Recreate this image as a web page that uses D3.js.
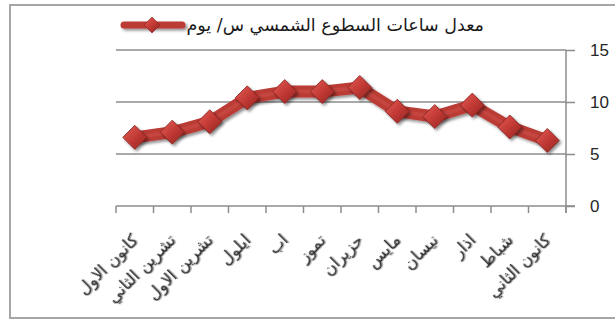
<!DOCTYPE html>
<html><head><meta charset="utf-8">
<script src="https://cdn.jsdelivr.net/npm/d3@7/dist/d3.min.js"></script>
<style>
html,body{margin:0;padding:0;background:#fff;}
svg{display:block;}
</style></head>
<body>
<svg id="chart" width="615" height="320"></svg>
<script>
const categories = ["كانون الاول","تشرين الثاني","تشرين الاول","ايلول","اب","تموز","حزيران","مايس","نيسان","اذار","شباط","كانون الثاني"];
const values = [6.6, 7.1, 8.1, 10.4, 11.0, 11.0, 11.4, 9.1, 8.6, 9.7, 7.6, 6.3];
const yTicks = [0, 5, 10, 15];
const seriesName = "معدل ساعات السطوع الشمسي س/ يوم";

const svg = d3.select("#chart");
const W = 615, H = 320;
const plot = {left: 116, right: 566, top: 50, bottom: 206};

// defs
const defs = svg.append("defs");
const grad = defs.append("linearGradient").attr("id","dg").attr("x1","0").attr("y1","0").attr("x2","1").attr("y2","1");
grad.append("stop").attr("offset","0%").attr("stop-color","#e25e58");
grad.append("stop").attr("offset","50%").attr("stop-color","#c33a35");
grad.append("stop").attr("offset","100%").attr("stop-color","#8f2320");
const sh = defs.append("filter").attr("id","sh").attr("filterUnits","userSpaceOnUse")
  .attr("x",-700).attr("y",-400).attr("width",1400).attr("height",800);
sh.append("feGaussianBlur").attr("in","SourceAlpha").attr("stdDeviation","1.5");
sh.append("feOffset").attr("dx","1.5").attr("dy","2").attr("result","ob");
sh.append("feComponentTransfer").append("feFuncA").attr("type","linear").attr("slope","0.45");
const mg = sh.append("feMerge"); mg.append("feMergeNode"); mg.append("feMergeNode").attr("in","SourceGraphic");
const tsh = defs.append("filter").attr("id","tsh").attr("x","-10%").attr("y","-10%").attr("width","130%").attr("height","130%");
tsh.append("feGaussianBlur").attr("in","SourceAlpha").attr("stdDeviation","0.6");
tsh.append("feOffset").attr("dx","1").attr("dy","1");
tsh.append("feComponentTransfer").append("feFuncA").attr("type","linear").attr("slope","0.35");
const mg2 = tsh.append("feMerge"); mg2.append("feMergeNode"); mg2.append("feMergeNode").attr("in","SourceGraphic");

// frame
svg.append("rect").attr("x",10).attr("y",5).attr("width",W+20).attr("height",313)
  .attr("fill","#fff").attr("stroke","#a6a6a6").attr("stroke-width",2);

const x = d3.scaleBand().domain(categories).range([plot.left, plot.right]).padding(0);
const y = d3.scaleLinear().domain([0,15]).range([plot.bottom, plot.top]);

// gridlines
svg.append("g").selectAll("line").data(yTicks.filter(t=>t>0)).join("line")
  .attr("x1",plot.left).attr("x2",plot.right)
  .attr("y1",d=>y(d)).attr("y2",d=>y(d))
  .attr("stroke","#8c8c8c").attr("stroke-width",1.5);

// y axis (right)
const yAxis = d3.axisRight(y).tickValues(yTicks).tickSize(9).tickPadding(15).tickFormat(d3.format("d"));
const gy = svg.append("g").attr("transform",`translate(${plot.right},0)`).call(yAxis);
gy.select(".domain").attr("d",`M0,${plot.top}V${plot.bottom+7}`).attr("stroke","#8c8c8c").attr("stroke-width",1.5);
gy.selectAll(".tick line").attr("stroke","#8c8c8c").attr("stroke-width",1.5);
gy.selectAll(".tick text").attr("font-family","Liberation Sans, Arial, sans-serif").attr("font-size",17).attr("fill","#262626");

// x axis
const boundaries = categories.map(c=>x(c)).concat([plot.right]);
const gx = svg.append("g");
gx.append("line").attr("x1",plot.left).attr("x2",plot.right+9).attr("y1",plot.bottom).attr("y2",plot.bottom)
  .attr("stroke","#8c8c8c").attr("stroke-width",1.5);
gx.selectAll("line.tk").data(boundaries).join("line").attr("class","tk")
  .attr("x1",d=>d).attr("x2",d=>d).attr("y1",plot.bottom).attr("y2",plot.bottom+7)
  .attr("stroke","#8c8c8c").attr("stroke-width",1.5);
gx.selectAll("text").data(categories).join("text")
  .attr("transform",d=>`translate(${x(d)+x.bandwidth()/2},${plot.bottom+31}) rotate(-45)`)
  .attr("text-anchor","end").attr("dy","0.35em")
  .attr("font-family","DejaVu Sans, sans-serif").attr("font-size",16.5)
  .attr("fill","#2a2a2a").attr("filter","url(#tsh)")
  .text(d=>d);

// line
const pts = categories.map((c,i)=>[x(c)+x.bandwidth()/2, y(values[i])]);
svg.append("path").attr("d",d3.line()(pts)).attr("fill","none")
  .attr("stroke","#bb3a36").attr("stroke-width",12).attr("stroke-linejoin","round")
  .attr("filter","url(#sh)");
svg.append("path").attr("d",d3.line()(pts)).attr("fill","none")
  .attr("stroke","#cf4f4a").attr("stroke-width",4).attr("stroke-linejoin","round").attr("opacity",0.5);

const diamond = (s)=>`M0,${-s}L${s},0L0,${s}L${-s},0Z`;
svg.append("g").selectAll("path").data(pts).join("path")
  .attr("transform",d=>`translate(${d[0]},${d[1]})`)
  .attr("d",diamond(12)).attr("fill","url(#dg)").attr("stroke","#86211e").attr("stroke-width",0.8)
  .attr("filter","url(#sh)");

// legend
const lg = svg.append("g");
lg.append("line").attr("x1",124).attr("x2",182).attr("y1",25).attr("y2",25)
  .attr("stroke","#bb3a36").attr("stroke-width",7).attr("stroke-linecap","round").attr("filter","url(#sh)");
lg.append("path").attr("transform","translate(152,25)").attr("d",diamond(8))
  .attr("fill","url(#dg)").attr("stroke","#86211e").attr("stroke-width",0.6);
lg.append("text").attr("x",484).attr("y",25).attr("dy","0.35em")
  .attr("text-anchor","start").attr("direction","rtl")
  .attr("font-family","DejaVu Sans, sans-serif").attr("font-size",17.5).attr("fill","#1a1a1a")
  .text(seriesName);
</script>
</body></html>
